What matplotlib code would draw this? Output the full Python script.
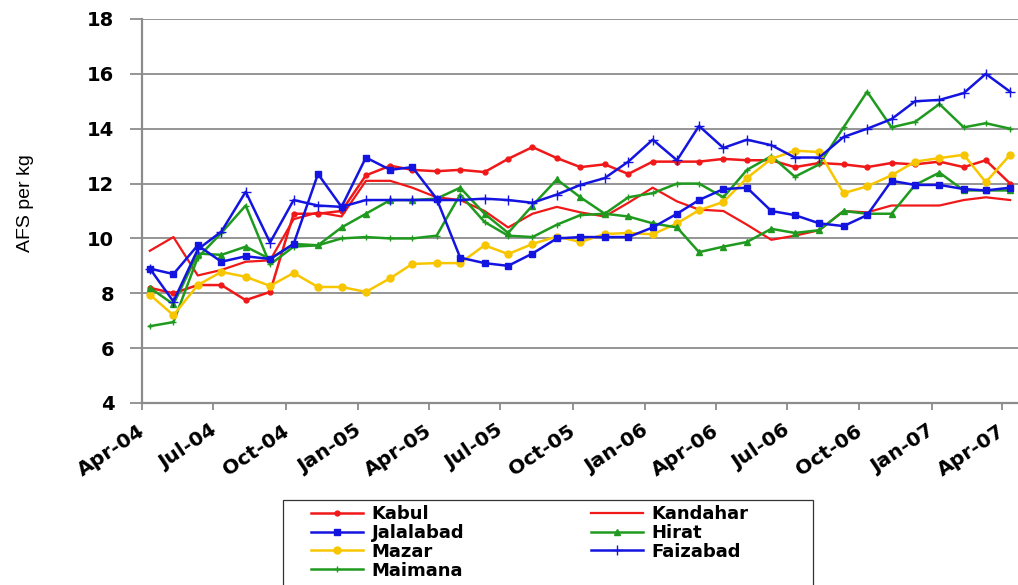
import matplotlib
matplotlib.use("Agg")
import matplotlib.pyplot as plt
import matplotlib.dates as mdates
import matplotlib.transforms as mtransforms
from matplotlib.patches import Rectangle
import pandas as pd

plt.rcParams['font.family'] = ['DejaVu Sans']

# monthly prices, Apr-04 .. Apr-07 (AFS per kg)
months = pd.date_range('2004-04-01', '2007-04-01', freq='MS')
kabul = [8.2, 8.0, 8.3, 8.3, 7.75, 8.05, 10.9, 10.9, 11.0, 12.3, 12.65, 12.5, 12.45,
         12.5, 12.42, 12.9, 13.33, 12.93, 12.6, 12.7, 12.35, 12.8, 12.8, 12.8, 12.9,
         12.85, 12.85, 12.6, 12.75, 12.7, 12.6, 12.75, 12.7, 12.8, 12.6, 12.85, 12.0]
kandahar = [9.55, 10.05, 8.65, 8.85, 9.15, 9.2, 10.7, 10.95, 10.8, 12.1, 12.1, 11.85,
            11.5, 11.4, 11.0, 10.4, 10.9, 11.15, 10.95, 10.8, 11.3, 11.85, 11.35, 11.05,
            11.0, 10.5, 9.95, 10.1, 10.3, 11.0, 10.95, 11.2, 11.2, 11.2, 11.4, 11.5, 11.4]
jalalabad = [8.9, 8.7, 9.75, 9.15, 9.35, 9.25, 9.8, 12.35, 11.15, 12.95, 12.5, 12.6,
             11.45, 9.3, 9.1, 9.0, 9.45, 10.0, 10.05, 10.05, 10.05, 10.4, 10.9, 11.4,
             11.8, 11.85, 11.0, 10.85, 10.55, 10.45, 10.85, 12.1, 11.95, 11.95, 11.8,
             11.75, 11.85]
hirat = [8.2, 7.6, 9.45, 9.4, 9.7, 9.25, 9.8, 9.75, 10.4, 10.9, 11.4, 11.4, 11.45,
         11.85, 10.9, 10.2, 11.2, 12.15, 11.5, 10.9, 10.8, 10.55, 10.4, 9.5, 9.7, 9.87,
         10.35, 10.2, 10.3, 11.0, 10.9, 10.9, 11.95, 12.4, 11.75, 11.75, 11.75]
mazar = [7.95, 7.2, 8.3, 8.78, 8.6, 8.27, 8.74, 8.23, 8.23, 8.05, 8.55, 9.07, 9.1,
         9.1, 9.75, 9.43, 9.8, 10.07, 9.87, 10.16, 10.2, 10.15, 10.55, 11.03, 11.33,
         12.2, 12.9, 13.2, 13.15, 11.65, 11.9, 12.3, 12.8, 12.93, 13.05, 12.05, 13.05]
faizabad = [8.9, 7.7, 9.6, 10.25, 11.7, 9.85, 11.4, 11.2, 11.15, 11.4, 11.4, 11.4,
            11.4, 11.4, 11.45, 11.4, 11.3, 11.6, 11.95, 12.2, 12.8, 13.6, 12.85, 14.1,
            13.3, 13.6, 13.4, 12.95, 12.95, 13.7, 14.0, 14.35, 15.0, 15.05, 15.3, 16.0,
            15.35]
maimana = [6.8, 6.95, 9.3, 10.2, 11.2, 9.05, 9.7, 9.75, 10.0, 10.05, 10.0, 10.0, 10.1,
           11.6, 10.6, 10.1, 10.05, 10.5, 10.85, 10.9, 11.5, 11.65, 12.0, 12.0, 11.5,
           12.5, 13.0, 12.25, 12.7, 14.05, 15.35, 14.05, 14.25, 14.9, 14.05, 14.2, 14.0]

# prices are recorded around the 10th of each month
dates = months + pd.Timedelta(days=10)

W, H = 1018, 585
fig = plt.figure(figsize=(W / 100, H / 100), dpi=100)
ax = fig.add_axes([142 / W, 1 - 403 / H, 876 / W, 384 / H])

red = '#F01818'
blue = '#1414E0'
green = '#1F9A1F'
gold = '#F7C600'

h_kabul, = ax.plot(dates, kabul, color=red, lw=1.8, marker='o', ms=3.5, label='Kabul')
h_kand, = ax.plot(dates, kandahar, color=red, lw=1.6, label='Kandahar')
h_maim, = ax.plot(dates, maimana, color=green, lw=1.8, marker='+', ms=5, mew=1, label='Maimana')
h_mazar, = ax.plot(dates, mazar, color=gold, lw=1.8, marker='o', ms=5, label='Mazar')
h_hirat, = ax.plot(dates, hirat, color=green, lw=1.8, marker='^', ms=4, label='Hirat')
h_faiz, = ax.plot(dates, faizabad, color=blue, lw=1.8, marker='+', ms=7, mew=1, label='Faizabad')
h_jal, = ax.plot(dates, jalalabad, color=blue, lw=1.8, marker='s', ms=4, label='Jalalabad')

ax.set_ylim(4, 18)
ax.set_yticks(range(4, 19, 2))
ax.set_xlim(pd.Timestamp('2004-04-01'), pd.Timestamp('2007-04-21'))
ax.xaxis.set_major_locator(mdates.MonthLocator(bymonth=[1, 4, 7, 10]))
ax.xaxis.set_major_formatter(mdates.DateFormatter('%b-%y'))

ax.grid(axis='y', color='#8c8c8c', lw=1.3)
ax.set_axisbelow(True)
for s in ['top', 'right']:
    ax.spines[s].set_visible(False)
for s in ['left', 'bottom']:
    ax.spines[s].set_color('#8c8c8c')
    ax.spines[s].set_linewidth(1.6)
ax.tick_params(axis='both', colors='#8c8c8c', width=1.3, labelcolor='black')
ax.tick_params(axis='y', length=9, pad=11, labelsize=14)
ax.tick_params(axis='x', length=5, pad=8, labelsize=14.5)
for lab in ax.get_yticklabels():
    lab.set_fontweight('bold')

offset = mtransforms.ScaledTranslation(-3 / 72, 0, fig.dpi_scale_trans)
for lab in ax.get_xticklabels():
    lab.set_rotation(34)
    lab.set_ha('right')
    lab.set_va('top')
    lab.set_rotation_mode('anchor')
    lab.set_fontweight('bold')
    lab.set_transform(lab.get_transform() + offset)

ax.set_ylabel('AFS per kg', fontsize=14, family=['Liberation Sans', 'DejaVu Sans'])
ax.yaxis.set_label_coords(-0.123, 0.52)

# legend: column 1 Kabul/Jalalabad/Mazar/Maimana, column 2 Kandahar/Hirat/Faizabad
handles = [h_kabul, h_jal, h_mazar, h_maim, h_kand, h_hirat, h_faiz]
leg = fig.legend(handles=handles, loc='upper left', ncol=2,
                 bbox_to_anchor=(311 / W, 1 - 505 / H), borderaxespad=0,
                 prop={'weight': 'bold', 'size': 13}, frameon=False,
                 handlelength=2.9, handletextpad=0.45, columnspacing=7.0,
                 labelspacing=0.05, borderpad=0)
fig.patches.append(Rectangle((283 / W, -0.05), 530 / W, 0.05 + 85 / H,
                             transform=fig.transFigure, fill=False,
                             edgecolor='#333333', lw=0.9))

fig.savefig('out.png', dpi=100)
